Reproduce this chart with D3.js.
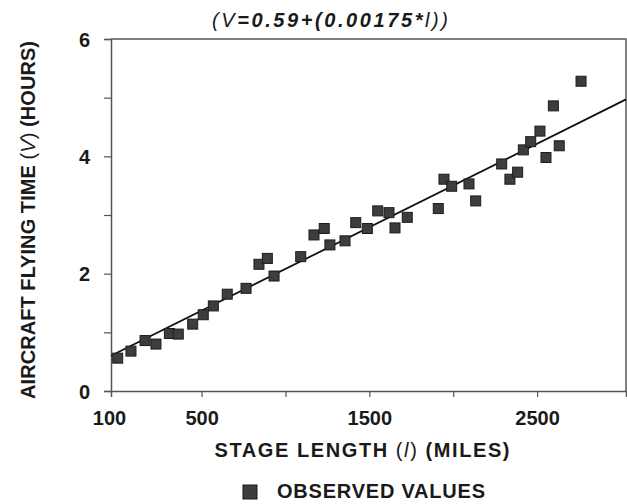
<!DOCTYPE html>
<html>
<head>
<meta charset="utf-8">
<script src="https://cdn.jsdelivr.net/npm/d3@7"></script>
<style>
  body { margin: 0; background: #fff; }
  text { font-family: "Liberation Sans", Arial, sans-serif; font-weight: bold; fill: #1a1a1a; }
</style>
</head>
<body>
<div id="chart"></div>
<script>
var stageLength = [0, 79, 163, 228, 308, 361, 447, 510, 570, 653, 765, 842, 892, 932,
    1091, 1170, 1231, 1265, 1355, 1419, 1488, 1550, 1617, 1653, 1726, 1911, 1945,
    1991, 2094, 2134, 2289, 2338, 2384, 2418, 2462, 2517, 2553, 2597, 2632, 2762];
var flyingTime = [0.56, 0.68, 0.86, 0.80, 0.98, 0.97, 1.14, 1.30, 1.45, 1.65, 1.75,
    2.16, 2.26, 1.96, 2.29, 2.66, 2.77, 2.49, 2.56, 2.87, 2.77, 3.07, 3.04, 2.78,
    2.96, 3.11, 3.61, 3.49, 3.53, 3.24, 3.87, 3.61, 3.73, 4.11, 4.25, 4.43, 3.98,
    4.86, 4.18, 5.28];

// fitted line as drawn (end points)
var fitX = [-40, 3030];
var fitY = [0.60, 4.97];

var xTicks = [-40, 500, 1000, 1500, 2000, 2500];
var xTickLabels = ["100", "500", "", "1500", "", "2500"];
var yTicks = [0, 1, 2, 3, 4, 5, 6];
var yTickLabels = ["0", "", "2", "", "4", "", "6"];

var width = 627, height = 504;
var svg = d3.select("#chart").append("svg")
    .attr("width", width).attr("height", height);

var x = d3.scaleLinear().domain([-40, 3030]).range([111, 626]);
var y = d3.scaleLinear().domain([0, 6]).range([391, 39]);

//frame (top and right)
svg.append("path")
    .attr("d", "M" + x.range()[0] + "," + y(6) + "H" + x.range()[1] + "V" + y(0))
    .attr("fill", "none").attr("stroke", "#555").attr("stroke-width", 1.5);

// y axis
var yAxis = svg.append("g").attr("transform", "translate(" + x.range()[0] + ",0)")
    .call(d3.axisLeft(y).tickValues(yTicks).tickSize(7).tickFormat(function(d, i) { return yTickLabels[i]; }));
yAxis.select(".domain").attr("stroke", "#555").attr("stroke-width", 1.5);
yAxis.selectAll(".tick line").attr("stroke", "#555").attr("stroke-width", 1.2);
yAxis.selectAll(".tick text").attr("x", -21).attr("dy", "0.36em")
    .style("font-size", "20px").style("font-family", "Liberation Sans, Arial").style("font-weight", "bold")
    .attr("fill", "#1a1a1a");

// x axis
var xAxis = svg.append("g").attr("transform", "translate(0," + y(0) + ")")
    .call(d3.axisBottom(x).tickValues(xTicks).tickSize(6).tickFormat(function(d, i) { return xTickLabels[i]; }));
xAxis.select(".domain").attr("stroke", "#555").attr("stroke-width", 1.5);
xAxis.selectAll(".tick line").attr("stroke", "#555").attr("stroke-width", 1.2)
    .attr("y2", function(d) { return d == -40 ? 0 : 6; });
xAxis.selectAll(".tick text").attr("y", 34).attr("dy", 0)
    .attr("dx", function(d) { return d == -40 ? -2 : 0; })
    .style("font-size", "20px").style("font-family", "Liberation Sans, Arial").style("font-weight", "bold")
    .attr("fill", "#1a1a1a");

// regression line
svg.append("line")
    .attr("x1", x(fitX[0])).attr("y1", y(fitY[0]))
    .attr("x2", x(fitX[1])).attr("y2", y(fitY[1]))
    .attr("stroke", "#111").attr("stroke-width", 1.8);

// observed points
var pts = d3.zip(stageLength, flyingTime);
var sz = 10;
svg.append("g").selectAll("rect").data(pts).enter().append("rect")
    .attr("x", function(d) { return x(d[0]) - sz / 2; })
    .attr("y", function(d) { return y(d[1]) - sz / 2; })
    .attr("width", sz).attr("height", sz)
    .attr("fill", "#3d3d3d").attr("stroke", "#1c1c1c").attr("stroke-width", 1);

// title
var title = svg.append("text").attr("x", 330).attr("y", 27).attr("text-anchor", "middle")
    .style("font-size", "20px").style("font-style", "italic")
    .attr("textLength", 236).attr("lengthAdjust", "spacing");
title.append("tspan").attr("font-weight", "normal").text("(");
title.append("tspan").attr("font-weight", "normal").text("V");
title.append("tspan").text("=0.59+(0.00175*");
title.append("tspan").attr("font-weight", "normal").text("l");
title.append("tspan").attr("font-weight", "normal").text("))");

// x label
var xl = svg.append("text").attr("x", 362).attr("y", 457).attr("text-anchor", "middle")
    .style("font-size", "20px").attr("textLength", 295).attr("lengthAdjust", "spacing");
xl.append("tspan").text("STAGE LENGTH ");
xl.append("tspan").attr("font-weight", "normal").text("(");
xl.append("tspan").attr("font-weight", "normal").style("font-style", "italic").text("l");
xl.append("tspan").attr("font-weight", "normal").text(")");
xl.append("tspan").text(" (MILES)");

// y label
var yl = svg.append("text").attr("transform", "translate(35,220) rotate(-90)")
    .attr("text-anchor", "middle").style("font-size", "20px")
    .attr("textLength", 358).attr("lengthAdjust", "spacing");
yl.append("tspan").text("AIRCRAFT FLYING TIME ");
yl.append("tspan").attr("font-weight", "normal").text("(");
yl.append("tspan").attr("font-weight", "normal").style("font-style", "italic").text("V");
yl.append("tspan").attr("font-weight", "normal").text(")");
yl.append("tspan").text(" (HOURS)");

// legend
svg.append("rect").attr("x", 243).attr("y", 485).attr("width", 14).attr("height", 14)
    .attr("fill", "#3d3d3d").attr("stroke", "#1c1c1c");
svg.append("text").attr("x", 277).attr("y", 498).style("font-size", "20px")
    .attr("textLength", 208).attr("lengthAdjust", "spacing")
    .text("OBSERVED VALUES");
</script>
</body>
</html>
